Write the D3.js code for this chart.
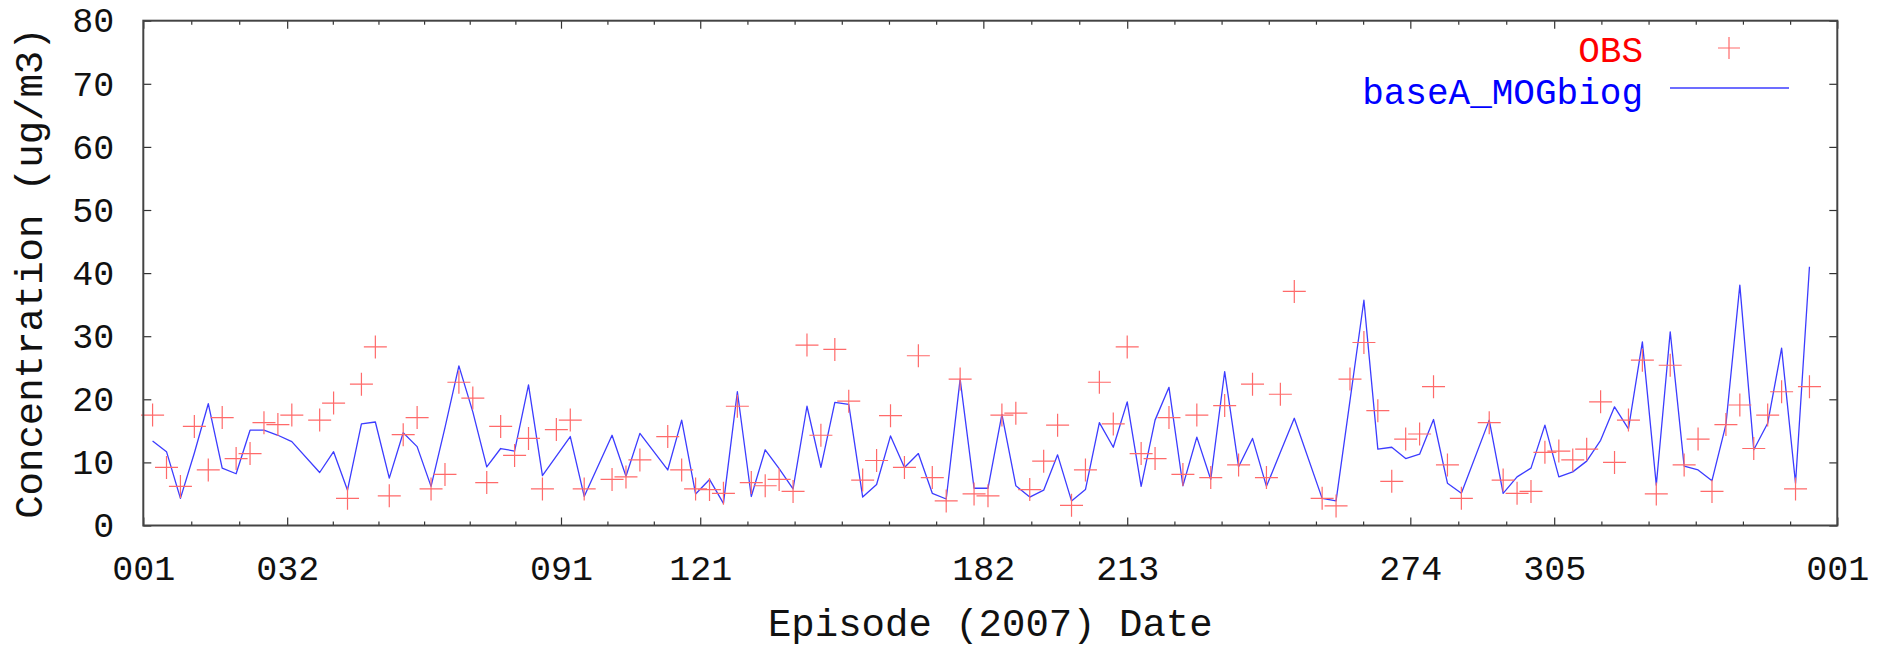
<!DOCTYPE html>
<html>
<head>
<meta charset="utf-8">
<script src="https://cdn.jsdelivr.net/npm/d3@7/dist/d3.min.js"></script>
<style>
  html, body { margin: 0; padding: 0; background: #fff; }
  svg { display: block; }
  text { font-family: "Courier New", "Liberation Mono", monospace; }
</style>
</head>
<body>
<svg id="chart" width="1881" height="649"></svg>
<script>
// ---------------- data ----------------
const days = [3,6,9,12,15,18,21,24,27,30,33,
  39,42,45,48,51,54,57,60,63,66,69,72,75,78,81,84,87,90,93,96,
  102,105,108,
  114,117,120,123,126,129,132,135,138,141,
  144,147,150,153,156,159,162,165,168,171,
  174,177,180,183,186,189,192,195,198,201,
  204,207,210,213,216,219,222,225,228,231,
  234,237,240,243,246,249,
  255,258,261,264,267,270,273,276,279,282,285,
  291,294,297,300,303,306,309,312,315,318,321,324,327,330,333,336,339,342,345,348,351,354,357,360];

const obsValues = [17.5,9.2,6.2,15.7,8.8,17.1,10.6,11.4,16.3,16.0,17.5,
  16.7,19.4,4.3,22.4,28.3,4.7,14.4,17.1,5.8,8.1,22.7,20.2,6.8,15.7,11.1,13.8,5.8,15.2,16.7,5.8,
  7.3,7.7,10.4,
  14.1,8.8,5.8,5.7,5.1,18.9,6.8,6.3,7.3,5.4,
  28.6,14.3,27.9,19.7,7.2,10.3,17.4,9.2,26.9,7.6,
  3.9,23.2,5.0,4.7,17.5,17.8,5.7,10.2,15.9,3.2,
  8.8,22.7,16.1,28.3,11.4,10.6,17.1,8.1,17.5,7.6,
  19.0,9.6,22.4,7.6,20.8,37.1,
  4.3,3.1,23.2,29.0,18.2,7.0,13.7,14.5,22.0,9.6,4.3,
  16.3,7.2,5.1,5.4,11.6,11.8,10.4,12.1,19.6,10.0,16.7,26.2,5.0,25.4,9.6,13.7,5.4,16.0,19.1,12.2,17.5,21.2,5.8,22.0];

const modelValues = [13.4,11.7,4.3,11.5,19.3,9.1,8.2,15.1,15.1,14.3,13.3,
  8.4,11.7,5.6,16.1,16.4,7.5,14.7,12.5,6.2,15.5,25.3,18.0,9.3,12.2,11.8,22.3,7.9,11.0,14.1,4.6,
  14.3,7.8,14.6,
  8.8,16.7,5.0,7.3,3.5,21.2,4.6,12.0,9.0,5.8,
  18.9,9.2,19.5,19.2,4.5,6.5,14.2,9.2,11.4,5.1,
  4.2,23.2,5.9,5.9,17.6,6.3,4.5,5.6,11.2,3.9,
  5.7,16.3,12.4,19.6,6.2,16.7,21.9,6.3,14.0,7.3,
  24.4,9.3,13.8,6.2,11.6,17.0,
  4.3,3.9,19.8,35.7,12.1,12.4,10.6,11.3,16.8,6.7,5.1,
  16.7,5.1,7.7,9.1,15.9,7.7,8.5,10.2,13.5,18.8,15.3,29.1,6.4,30.7,9.4,8.8,7.1,16.0,38.1,12.0,16.2,28.1,6.7,41.0];

const xTickDays = [1,32,91,121,182,213,274,305,366];
const xTickLabels = ["001","032","091","121","182","213","274","305","001"];
const yTicks = [0,10,20,30,40,50,60,70,80];
const seriesNames = ["OBS","baseA_MOGbiog"];
const xTitle = "Episode (2007) Date";
const yTitle = "Concentration (ug/m3)";

// ---------------- layout ----------------
const W = 1881, H = 649;
const L = 143.3, R = 1837.3, T = 20.7, B = 525.5;
const svg = d3.select("#chart");

const x = d3.scaleLinear().domain([1, 366]).range([L, R]);
const y = d3.scaleLinear().domain([0, 80]).range([B, T]);

// minor ticks: subdivide each labelled interval into ~10-day steps
const minorTicks = [];
for (let i = 0; i < xTickDays.length - 1; i++) {
  const a = xTickDays[i], b = xTickDays[i + 1];
  const n = Math.max(1, Math.round((b - a) / 10));
  for (let k = 1; k < n; k++) minorTicks.push(a + (b - a) * k / n);
}

const tickColor = "#333";
function styleAxis(g) {
  g.select(".domain").remove();
  g.selectAll(".tick line").attr("stroke", tickColor).attr("stroke-width", 1.2);
  g.selectAll(".tick text").attr("fill", "#111").style("font-size", "35px")
    .style("font-family", '"Courier New", "Liberation Mono", monospace');
}

// bottom major
svg.append("g").attr("transform", `translate(0,${B})`)
  .call(d3.axisBottom(x).tickValues(xTickDays)
    .tickFormat((d, i) => xTickLabels[i]).tickSize(-8).tickPadding(30))
  .call(styleAxis);
// bottom minor
svg.append("g").attr("transform", `translate(0,${B})`)
  .call(d3.axisBottom(x).tickValues(minorTicks).tickFormat("").tickSize(-4))
  .call(styleAxis);
// top major & minor (mirror)
svg.append("g").attr("transform", `translate(0,${T})`)
  .call(d3.axisTop(x).tickValues(xTickDays).tickFormat("").tickSize(-8))
  .call(styleAxis);
svg.append("g").attr("transform", `translate(0,${T})`)
  .call(d3.axisTop(x).tickValues(minorTicks).tickFormat("").tickSize(-4))
  .call(styleAxis);
// left
svg.append("g").attr("transform", `translate(${L},0)`)
  .call(d3.axisLeft(y).tickValues(yTicks).tickFormat(d3.format("d")).tickSize(-8).tickPadding(29))
  .call(styleAxis);
// right (mirror)
svg.append("g").attr("transform", `translate(${R},0)`)
  .call(d3.axisRight(y).tickValues(yTicks).tickFormat("").tickSize(-8))
  .call(styleAxis);

// ---------------- series ----------------
const obsColor = "#ff6a6a";
const modelColor = "#3c3cff";
const cs = 11.5; // cross half size

const line = d3.line().x((d, i) => x(days[i])).y(d => y(d));
svg.append("path")
  .datum(modelValues)
  .attr("d", line)
  .attr("fill", "none")
  .attr("stroke", modelColor)
  .attr("stroke-width", 1.3)
  .attr("stroke-linejoin", "round");

const crosses = svg.append("g").attr("stroke", obsColor).attr("stroke-width", 1.2);
obsValues.forEach((v, i) => {
  const cx = x(days[i]), cy = y(v);
  crosses.append("path")
    .attr("d", `M${cx - cs},${cy}H${cx + cs}M${cx},${cy - cs}V${cy + cs}`);
});

// border
svg.append("rect")
  .attr("x", L).attr("y", T).attr("width", R - L).attr("height", B - T)
  .attr("fill", "none").attr("stroke", "#444").attr("stroke-width", 2);

// ---------------- legend ----------------
const lg = svg.append("g").style("font-size", "36px");
lg.append("text").attr("x", 1643).attr("y", 49).attr("dy", "0.35em")
  .attr("text-anchor", "end").attr("fill", "#ff0000").text(seriesNames[0]);
lg.append("path")
  .attr("d", `M${1729 - 11},48H${1729 + 11}M1729,${48 - 11}V${48 + 11}`)
  .attr("stroke", obsColor).attr("stroke-width", 1.2);
lg.append("text").attr("x", 1643).attr("y", 91).attr("dy", "0.35em")
  .attr("text-anchor", "end").attr("fill", "#0000ff").text(seriesNames[1]);
lg.append("line").attr("x1", 1670).attr("x2", 1789).attr("y1", 88).attr("y2", 88)
  .attr("stroke", modelColor).attr("stroke-width", 1.3);

// ---------------- titles ----------------
svg.append("text").attr("x", (L + R) / 2).attr("y", 636)
  .attr("text-anchor", "middle").attr("fill", "#111").style("font-size", "39px")
  .text(xTitle);
svg.append("text").attr("transform", `translate(42,${(T + B) / 2}) rotate(-90)`)
  .attr("text-anchor", "middle").attr("fill", "#111").style("font-size", "39px")
  .text(yTitle);
</script>
</body>
</html>
